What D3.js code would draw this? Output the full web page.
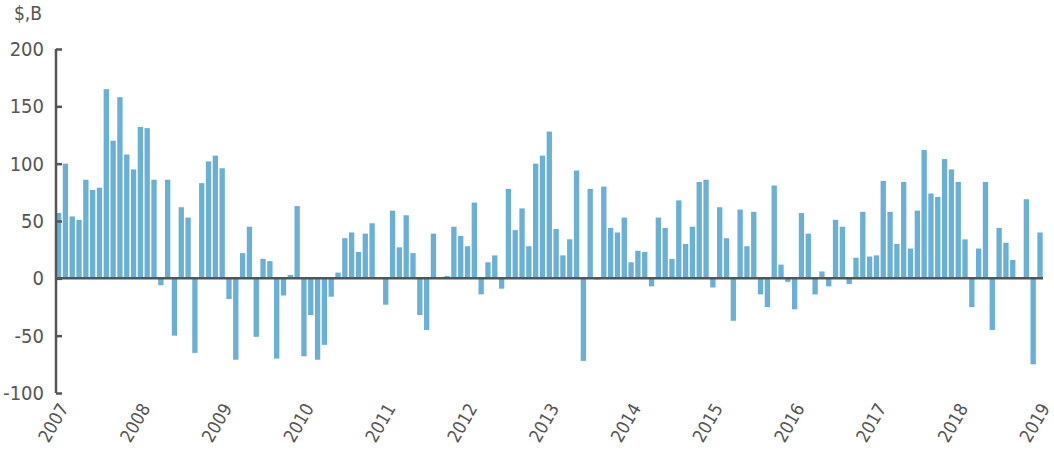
<!DOCTYPE html>
<html><head><meta charset="utf-8">
<script src="https://cdn.jsdelivr.net/npm/d3@7"></script>
<style>body{margin:0;background:#fff}text{font-family:"DejaVu Sans Condensed","DejaVu Sans",sans-serif;fill:#555}</style>
</head><body><svg id="c" width="1054" height="450"></svg>
<script>
const years = ["2007","2008","2009","2010","2011","2012","2013","2014","2015","2016","2017","2018","2019"];
const values = [
 57,100,54,51,86,77,79,165,120,158,108,95,
 132,131,86,-6,86,-50,62,53,-65,83,102,107,
 96,-18,-71,22,45,-51,17,15,-70,-15,3,63,
 -68,-32,-71,-58,-16,5,35,40,23,39,48,0,
 -23,59,27,55,22,-32,-45,39,0,2,45,37,
 28,66,-14,14,20,-9,78,42,61,28,100,107,
 128,43,20,34,94,-72,78,-1,80,44,40,53,
 14,24,23,-7,53,44,17,68,30,45,84,86,
 -8,62,35,-37,60,28,58,-14,-25,81,12,-3,
 -27,57,39,-14,6,-7,51,45,-5,18,58,19,
 20,85,58,30,84,26,59,112,74,71,104,95,
 84,34,-25,26,84,-45,44,31,16,0,69,-75,
 40];
const yTicks = [200,150,100,50,0,-50,-100];
const yLabel = "$,B";

const svg = d3.select("#c");
const x = d3.scaleBand().domain(values.map((d,i)=>i)).range([55.6,1043]).paddingInner(0.22).paddingOuter(0.05);
const y = d3.scaleLinear().domain([-100,200]).range([393,49]);

svg.append("g").selectAll("rect").data(values).join("rect")
  .attr("x",(d,i)=>x(i)).attr("width",x.bandwidth())
  .attr("y",d=>y(Math.max(0,d))).attr("height",d=>Math.abs(y(d)-y(0)))
  .attr("fill","#6ab0d4");

const ya = svg.append("g").attr("transform","translate(56,0)")
  .call(d3.axisRight(y).tickValues(yTicks).tickSize(6).tickFormat(""));
ya.select(".domain").attr("stroke","#555").attr("stroke-width",2.5).attr("d","M0,49V393");
ya.selectAll(".tick line").attr("stroke","#555").attr("stroke-width",2.5);
svg.append("g").selectAll("text").data(yTicks).join("text")
  .attr("x",44).attr("y",d=>y(d)).attr("dy","0.35em").attr("text-anchor","end")
  .style("font-size","20px").text(d=>d);
svg.append("text").attr("x",42).attr("y",20).attr("text-anchor","end").style("font-size","19px").text(yLabel);

svg.append("line").attr("x1",56).attr("x2",1043).attr("y1",y(0)).attr("y2",y(0)).attr("stroke","#555").attr("stroke-width",2.5);

svg.append("g").selectAll("text").data(years).join("text")
  .attr("transform",(d,i)=>`translate(${x(i*12)+x.bandwidth()/2+5},405) rotate(-60)`)
  .attr("text-anchor","end").attr("dy","0.35em").style("font-size","18px").text(d=>d);
</script></body></html>
